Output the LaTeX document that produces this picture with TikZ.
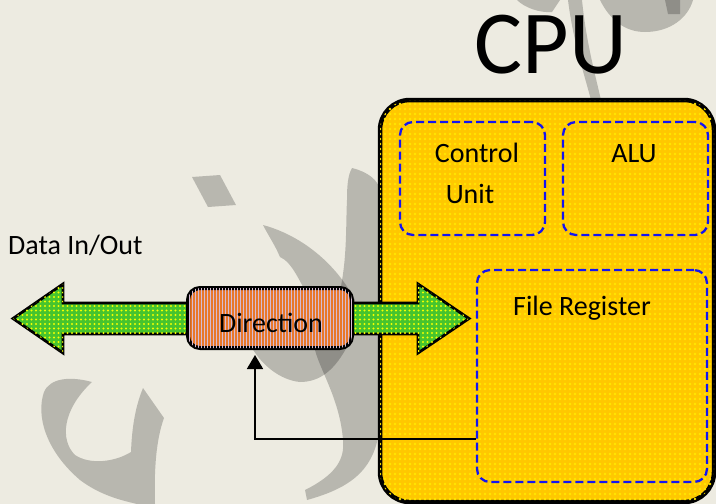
\documentclass[tikz,border=0pt]{standalone}
\usepackage{fontspec}
\setmainfont{Carlito}
\usetikzlibrary{patterns.meta,arrows.meta,calc}
\definecolor{bg}{HTML}{EDEBE1}
\definecolor{cpuyel}{HTML}{FFC800}
\definecolor{cpudot}{HTML}{FFE800}
\definecolor{arrgreen}{HTML}{46C42E}
\definecolor{arrdot}{HTML}{F2FF00}
\definecolor{dirorange}{HTML}{E8782A}
\definecolor{dirstripe}{HTML}{D6BCD4}
\definecolor{dashblue}{HTML}{1414F0}
\begin{document}
\begin{tikzpicture}[x=1pt,y=-1pt,
  wm/.style={fill=black, fill opacity=0.22, draw=none},
  cpubox/.style={draw=black, line width=4.5pt, rounded corners=30pt, fill=cpuyel, inner sep=0pt,
    postaction={pattern={Dots[distance=5pt,radius=1.3pt]}, pattern color=cpudot}},
  dbox/.style={draw=dashblue, line width=2.3pt, dash pattern=on 8pt off 4pt, rounded corners=13pt, inner sep=0pt},
  dirbox/.style={draw=black, line width=4pt, rounded corners=12pt, fill=dirorange, inner sep=0pt,
    postaction={pattern={Lines[angle=90,distance=3pt,line width=0.9pt]}, pattern color=dirstripe}},
  bigarrow/.style={draw=black, line width=2.8pt, line join=miter, fill=arrgreen,
    postaction={pattern={Dots[distance=4.5pt,radius=1.2pt]}, pattern color=arrdot}},
  fbline/.style={draw=black, line width=1.8pt, -{Triangle[width=16pt,length=14pt]}},
  lbl/.style={font=\fontsize{28}{34}\selectfont, anchor=base, inner sep=0pt}
]
\useasboundingbox (0,0) rectangle (716,504);
\fill[bg] (0,0) rectangle (716,504);
% watermark
\fill[wm] (192,177) -- (220,175) -- (236,205) -- (208,207) -- cycle;
\fill[wm] (263,225) .. controls (300,235) and (335,262) .. (355,300) -- (348,345) .. controls (335,370) and (320,382) .. (300,382) .. controls (280,380) and (262,365) .. (252,348) -- (310,300) .. controls (300,282) and (292,262) .. (280,257) .. controls (275,245) and (268,235) .. cycle;
\fill[wm] (352,168) .. controls (368,172) and (378,180) .. (380,190) -- (380,420) .. controls (378,470) and (350,488) .. (307,500) -- (305,490) .. controls (335,475) and (345,460) .. (343,440) .. controls (340,400) and (320,370) .. (315,350) .. controls (350,300) and (345,240) .. (347,200) .. controls (347,185) and (348,175) .. cycle;
\fill[wm] (92,382) .. controls (70,376) and (50,378) .. (44,392) .. controls (36,415) and (45,450) .. (80,480) .. controls (100,495) and (120,500) .. (137,504) -- (155,504) .. controls (154,470) and (156,440) .. (164,418) -- (143,388) .. controls (136,405) and (132,425) .. (131,452) .. controls (115,462) and (90,465) .. (75,455) .. controls (60,440) and (62,410) .. cycle;
\fill[wm] (568,0) -- (582,0) .. controls (586,40) and (594,70) .. (601,100) -- (591,100) .. controls (583,70) and (573,40) .. cycle;
\fill[wm] (600,0) .. controls (610,20) and (625,32) .. (645,32) .. controls (670,32) and (688,18) .. (693,0) -- cycle;
\fill[wm] (517,0) .. controls (525,8) and (540,13) .. (552,12) -- (560,0) -- cycle;
\fill[wm] (665,0) -- (680,0) -- (680,14) -- (668,14) -- cycle;
% CPU box
\node[cpubox, minimum width=334pt, minimum height=402pt] (cpu) at (547,301) {};
\node[dbox, minimum width=145pt, minimum height=113pt] (cu) at (472.5,178.5) {};
\node[dbox, minimum width=145pt, minimum height=113pt] (alu) at (635.5,178.5) {};
\node[dbox, minimum width=230pt, minimum height=212pt] (fr) at (592,376) {};
% big double arrow
\coordinate (ltip) at (13,318.5);
\coordinate (rtip) at (469,318.5);
\path[bigarrow] (ltip) -- (63,284) -- (63,303) -- (418,303) -- (418,284) -- (rtip) -- (418,353) -- (418,334) -- (63,334) -- (63,353) -- cycle;
% direction
\node[dirbox, minimum width=164pt, minimum height=60pt] (dir) at (270,318) {};
% feedback
\coordinate (fbtip) at (255,355);
\draw[fbline] ([yshift=-63pt]fr.west) -| (fbtip);
% texts
\node[lbl] (cputxt) at (551,73) {\fontsize{90}{100}\selectfont CPU};
\node[lbl, anchor=base west] (datatxt) at (8,254) {Data In/Out};
\node[lbl] (dirtxt) at (271,332) {Direction};
\node[lbl] (ctrltxt) at (477,162) {Control};
\node[lbl] (unittxt) at (470,203) {Unit};
\node[lbl] (alutxt) at (634,162) {ALU};
\node[lbl] (frtxt) at (582,315) {File Register};
\end{tikzpicture}
\end{document}
